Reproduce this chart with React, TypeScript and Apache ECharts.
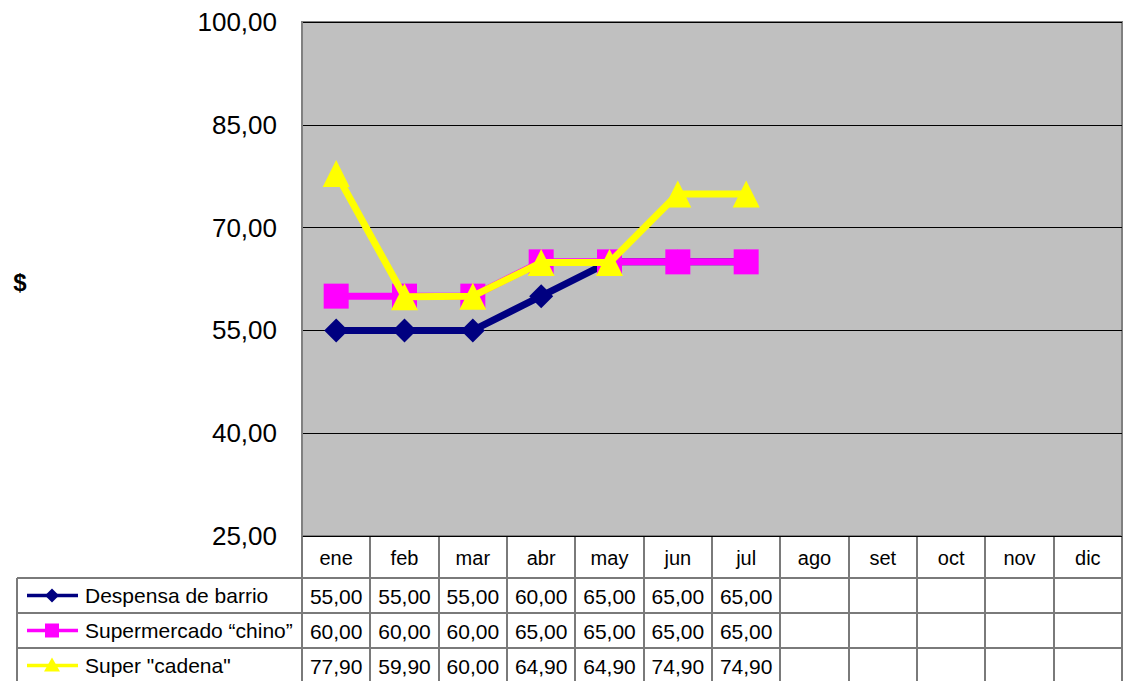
import React, { useEffect, useRef } from "react";
import * as echarts from "echarts";

const months = ["ene", "feb", "mar", "abr", "may", "jun", "jul", "ago", "set", "oct", "nov", "dic"];
const seriesNames = ["Despensa de barrio", "Supermercado \u201cchino\u201d", "Super \"cadena\""];
const despensa = [55, 55, 55, 60, 65, 65, 65];
const chino = [60, 60, 60, 65, 65, 65, 65];
const cadena = [77.9, 59.9, 60.0, 64.9, 64.9, 74.9, 74.9];
const yTicks = [25, 40, 55, 70, 85, 100];

const W = 1128;
const H = 681;
const GL = 302;
const GR = 1122;
const GT = 22;
const GB = 536;
const ROW_TOP = 578;
const ROW_H = 35;
const LEG_L = 17;
const FONT = "Liberation Sans, Arial, sans-serif";

const fmt = (v: number) => v.toFixed(2).replace(".", ",");

export default function App() {
  const ref = useRef<HTMLDivElement>(null);
  useEffect(() => {
    document.body.style.margin = "0";
    const chart = echarts.init(ref.current!, undefined, { renderer: "svg" });
    const colors = ["#000080", "#FF00FF", "#FFFF00"];
    const symbols = ["diamond", "rect", "triangle"];
    const sizes = [24, 25, 27];
    const datas = [despensa, chino, cadena];
    const colW = (GR - GL) / months.length;
    const graphic: any[] = [];
    const border = "#7a7a7a";
    for (let i = 0; i <= months.length; i++) {
      const x = Math.round(GL + i * colW);
      graphic.push({ type: "line", shape: { x1: x, y1: GB, x2: x, y2: H + 5 }, style: { stroke: border, lineWidth: 2 } });
    }
    for (let r = 0; r <= 3; r++) {
      const y = ROW_TOP + r * ROW_H;
      graphic.push({ type: "line", shape: { x1: LEG_L, y1: y, x2: GR, y2: y }, style: { stroke: border, lineWidth: 2 } });
    }
    graphic.push({ type: "line", shape: { x1: LEG_L, y1: ROW_TOP, x2: LEG_L, y2: H + 5 }, style: { stroke: border, lineWidth: 2 } });
    months.forEach((m, i) => {
      graphic.push({
        type: "text",
        style: { text: m, x: GL + (i + 0.5) * colW, y: (GB + ROW_TOP) / 2 + 1, align: "center", verticalAlign: "middle", font: `20px ${FONT}`, fill: "#000" },
      });
    });
    datas.forEach((d, r) => {
      const cy = ROW_TOP + (r + 0.5) * ROW_H;
      d.forEach((v, i) => {
        graphic.push({
          type: "text",
          style: { text: fmt(v), x: GL + (i + 0.5) * colW, y: cy + 1, align: "center", verticalAlign: "middle", font: `21px ${FONT}`, fill: "#000" },
        });
      });
      graphic.push({ type: "line", shape: { x1: 27, y1: cy, x2: 78, y2: cy }, style: { stroke: colors[r], lineWidth: 3.5 } });
      if (r === 0) {
        graphic.push({ type: "polygon", shape: { points: [[52, cy - 7], [59, cy], [52, cy + 7], [45, cy]] }, style: { fill: colors[r] } });
      } else if (r === 1) {
        graphic.push({ type: "rect", shape: { x: 45, y: cy - 7, width: 14, height: 14 }, style: { fill: colors[r] } });
      } else {
        graphic.push({ type: "polygon", shape: { points: [[52, cy - 8], [60, cy + 6], [44, cy + 6]] }, style: { fill: colors[r] } });
      }
      graphic.push({
        type: "text",
        style: { text: seriesNames[r], x: 85, y: cy, align: "left", verticalAlign: "middle", font: `21px ${FONT}`, fill: "#000" },
      });
    });
    graphic.push({
      type: "text",
      style: { text: "$", x: 20, y: 282, align: "center", verticalAlign: "middle", font: `bold 24px ${FONT}`, fill: "#000" },
    });

    chart.setOption({
      animation: false,
      backgroundColor: "#fff",
      grid: {
        left: GL, right: W - GR, top: GT, bottom: H - GB,
        show: true, backgroundColor: "#C0C0C0", borderColor: "#808080", borderWidth: 2,
      },
      xAxis: {
        type: "category",
        data: months,
        boundaryGap: true,
        axisLine: { show: false },
        axisTick: { show: false },
        axisLabel: { show: false },
        splitLine: { show: false },
      },
      yAxis: {
        type: "value",
        min: yTicks[0],
        max: yTicks[yTicks.length - 1],
        interval: 15,
        axisLine: { show: true, lineStyle: { color: "#808080", width: 2 } },
        axisTick: { show: false },
        axisLabel: { formatter: (v: number) => fmt(v), fontSize: 26, fontFamily: FONT, color: "#000", margin: 25 },
        splitLine: { show: true, lineStyle: { color: "#000", width: 1 } },
      },
      graphic,
      series: datas.map((d, i) => ({
        name: seriesNames[i],
        type: "line",
        data: d,
        symbol: symbols[i],
        symbolSize: sizes[i],
        showAllSymbol: true,
        lineStyle: { color: colors[i], width: 7 },
        itemStyle: { color: colors[i] },
        z: 3 + i,
      })),
    });
    return () => chart.dispose();
  }, []);
  return <div ref={ref} style={{ width: W, height: H, position: "absolute", left: 0, top: 0 }} />;
}
